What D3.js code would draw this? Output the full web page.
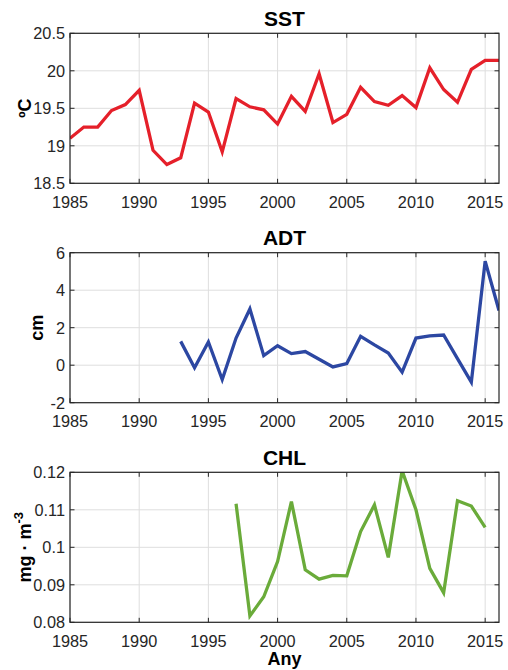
<!DOCTYPE html>
<html>
<head>
<meta charset="utf-8">
<script src="https://cdn.jsdelivr.net/npm/d3@7"></script>
<style>
  html, body { margin: 0; padding: 0; background: #fff; }
  svg { display: block; }
  text { font-family: "Liberation Sans", Arial, sans-serif; fill: #262626; }
</style>
</head>
<body>
<svg id="chart" width="508" height="670"></svg>
<script>
// Annual series
const sstYears = [1985,1986,1987,1988,1989,1990,1991,1992,1993,1994,1995,1996,1997,1998,1999,2000,
                  2001,2002,2003,2004,2005,2006,2007,2008,2009,2010,2011,2012,2013,2014,2015,2016];
const sstValues = [19.10,19.25,19.25,19.47,19.55,19.74,18.94,18.75,18.84,19.57,19.45,18.92,19.63,19.52,19.48,19.29,
                   19.66,19.46,19.96,19.31,19.42,19.78,19.59,19.54,19.67,19.51,20.04,19.75,19.58,20.02,20.14,20.14];

const adtYears = [1993,1994,1995,1996,1997,1998,1999,2000,2001,2002,2003,2004,2005,2006,2007,2008,
                  2009,2010,2011,2012,2013,2014,2015,2016];
const adtValues = [1.27,-0.14,1.24,-0.76,1.45,3.00,0.51,1.04,0.62,0.73,0.32,-0.09,0.09,1.54,1.08,0.65,
                   -0.37,1.45,1.56,1.61,0.35,-0.90,5.55,2.92];

const chlYears = [1997,1998,1999,2000,2001,2002,2003,2004,2005,2006,2007,2008,2009,2010,2011,2012,2013,2014,2015];
const chlValues = [0.1116,0.0817,0.0868,0.0962,0.1122,0.0940,0.0915,0.0925,0.0924,0.1042,0.1113,0.0973,
                   0.1204,0.1100,0.0944,0.0879,0.1124,0.1110,0.1053];

// Axis ticks
const xTicks = [1985,1990,1995,2000,2005,2010,2015];
const xTickLabels = ["1985","1990","1995","2000","2005","2010","2015"];
const xDomain = [1985, 2016];

const sstTicks = [18.5,19,19.5,20,20.5];
const sstTickLabels = ["18.5","19","19.5","20","20.5"];
const adtTicks = [-2,0,2,4,6];
const adtTickLabels = ["-2","0","2","4","6"];
const chlTicks = [0.08,0.09,0.1,0.11,0.12];
const chlTickLabels = ["0.08","0.09","0.1","0.11","0.12"];

const svg = d3.select("#chart");
const left = 70, right = 499, panelH = 150;

const x = d3.scaleLinear().domain(xDomain).range([left, right]);

const panels = [
  { id: "sst", title: "SST", top: 33.3, years: sstYears, values: sstValues, ticks: sstTicks, labels: sstTickLabels,
    domain: [18.5, 20.5], color: "#e5202a", ylabel: "ºC", ylabelX: 31 },
  { id: "adt", title: "ADT", top: 252.7, years: adtYears, values: adtValues, ticks: adtTicks, labels: adtTickLabels,
    domain: [-2, 6], color: "#2c47a2", ylabel: "cm", ylabelX: 43 },
  { id: "chl", title: "CHL", top: 472.3, years: chlYears, values: chlValues, ticks: chlTicks, labels: chlTickLabels,
    domain: [0.08, 0.12], color: "#6aab3a", ylabel: null, ylabelX: 31 }
];

const gridColor = "#dedede";
const axisColor = "#262626";
const tickLen = 4.5;

panels.forEach(p => {
  const bottom = p.top + panelH;
  const y = d3.scaleLinear().domain(p.domain).range([bottom, p.top]);
  const g = svg.append("g").attr("class", "panel-" + p.id);

  g.append("clipPath").attr("id", "clip-" + p.id)
    .append("rect").attr("x", left).attr("y", p.top).attr("width", right - left).attr("height", panelH);

  // grid
  g.selectAll(".vgrid").data(xTicks).join("line")
    .attr("x1", d => x(d)).attr("x2", d => x(d)).attr("y1", p.top).attr("y2", bottom)
    .attr("stroke", gridColor).attr("stroke-width", 1);
  g.selectAll(".hgrid").data(p.ticks).join("line")
    .attr("x1", left).attr("x2", right).attr("y1", d => y(d)).attr("y2", d => y(d))
    .attr("stroke", gridColor).attr("stroke-width", 1);

  // series line
  const line = d3.line().x(d => x(d[0])).y(d => y(d[1]));
  g.append("path")
    .datum(p.years.map((yr, i) => [yr, p.values[i]]))
    .attr("clip-path", "url(#clip-" + p.id + ")")
    .attr("d", line)
    .attr("fill", "none")
    .attr("stroke", p.color)
    .attr("stroke-width", 3.3)
    .attr("stroke-linejoin", "miter");

  // inward ticks on all four sides
  const tickG = g.append("g").attr("stroke", axisColor).attr("stroke-width", 1);
  xTicks.forEach(t => {
    tickG.append("line").attr("x1", x(t)).attr("x2", x(t)).attr("y1", bottom).attr("y2", bottom - tickLen);
    tickG.append("line").attr("x1", x(t)).attr("x2", x(t)).attr("y1", p.top).attr("y2", p.top + tickLen);
  });
  p.ticks.forEach(t => {
    tickG.append("line").attr("x1", left).attr("x2", left + tickLen).attr("y1", y(t)).attr("y2", y(t));
    tickG.append("line").attr("x1", right).attr("x2", right - tickLen).attr("y1", y(t)).attr("y2", y(t));
  });

  // box
  g.append("rect").attr("x", left).attr("y", p.top).attr("width", right - left).attr("height", panelH)
    .attr("fill", "none").attr("stroke", axisColor).attr("stroke-width", 1.2);

  // tick labels
  g.selectAll(".xl").data(xTicks).join("text")
    .attr("x", d => x(d)).attr("y", bottom + 24.5)
    .attr("text-anchor", "middle").attr("font-size", 16.3)
    .text((d, i) => xTickLabels[i]);
  g.selectAll(".yl").data(p.ticks).join("text")
    .attr("x", left - 5).attr("y", d => y(d)).attr("dy", "0.36em")
    .attr("text-anchor", "end").attr("font-size", 16.3)
    .text((d, i) => p.labels[i]);

  // title
  g.append("text").attr("x", (left + right) / 2).attr("y", p.top - 7.5)
    .attr("text-anchor", "middle").attr("font-size", 21).attr("font-weight", "bold")
    .style("fill", "#000").text(p.title);

  // y label
  const yl = g.append("text")
    .attr("transform", `translate(${p.ylabelX},${(p.top + bottom) / 2}) rotate(-90)`)
    .attr("text-anchor", "middle").attr("font-size", 18).attr("font-weight", "bold")
    .style("fill", "#000");
  if (p.ylabel) {
    yl.text(p.ylabel);
  } else {
    yl.append("tspan").text("mg · m");
    yl.append("tspan").attr("dy", -8).attr("font-size", 13).text("-3");
  }
});

// x label
svg.append("text").attr("x", (left + right) / 2).attr("y", 665)
  .attr("text-anchor", "middle").attr("font-size", 18).attr("font-weight", "bold")
  .style("fill", "#000").text("Any");
</script>
</body>
</html>
